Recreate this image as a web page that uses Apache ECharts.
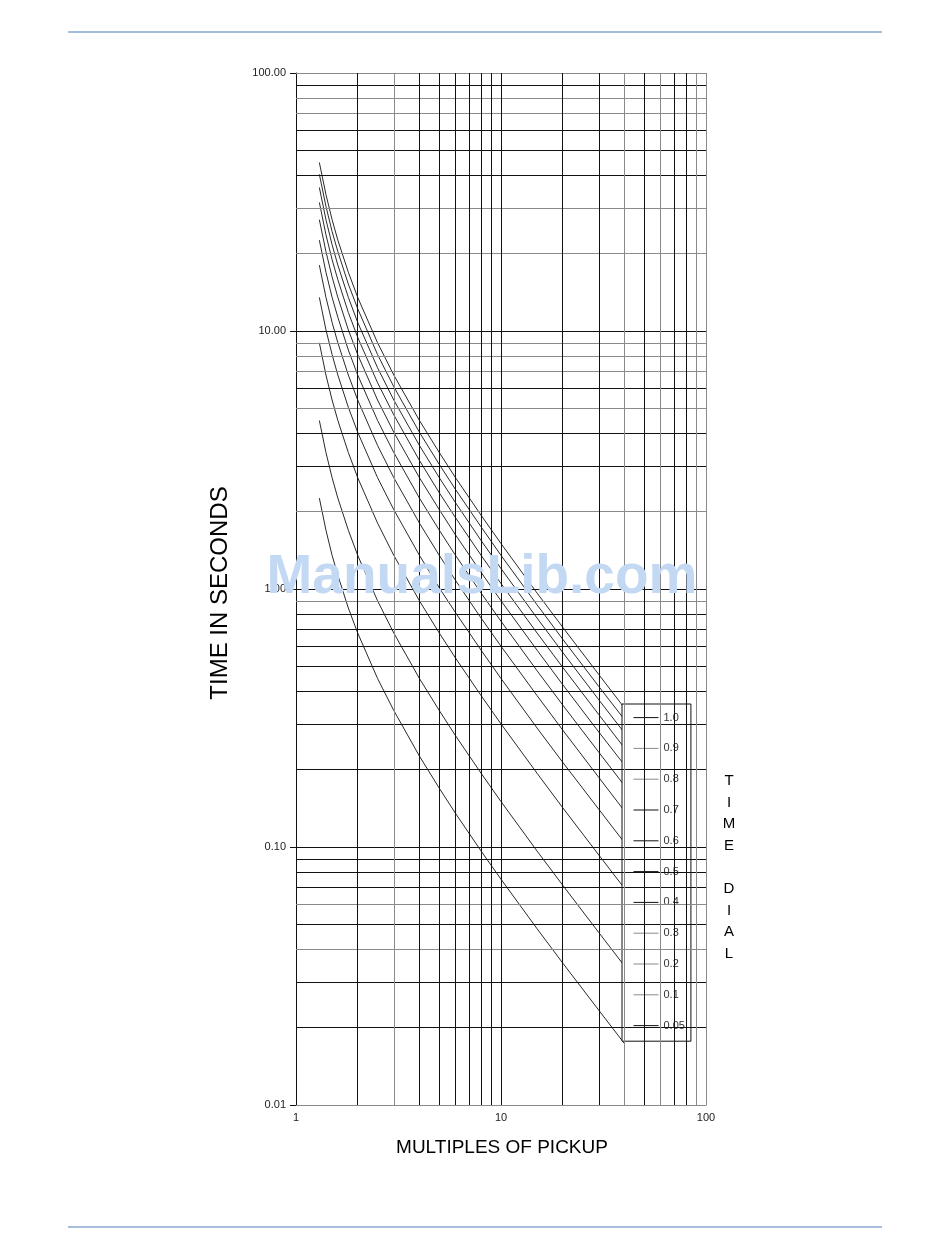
<!DOCTYPE html>
<html>
<head>
<meta charset="utf-8">
<script src="https://cdn.jsdelivr.net/npm/echarts@6/dist/echarts.min.js"></script>
<style>
html,body{margin:0;padding:0;background:#fff;}
#chart{width:950px;height:1260px;}
</style>
</head>
<body>
<div id="chart"></div>
<script>
// Multiples of pickup (x)
const multiples = [1.3, 1.4, 1.5, 1.6, 1.8, 2, 2.5, 3, 4, 5, 6, 8, 10, 15, 20, 30, 40];
// Time dial settings (legend)
const dials = ['1.0', '0.9', '0.8', '0.7', '0.6', '0.5', '0.4', '0.3', '0.2', '0.1', '0.05'];
// Operating time in seconds for each dial
const t10  = [45, 33.8, 27, 22.5, 16.9, 13.5, 9, 6.75, 4.5, 3.38, 2.7, 1.93, 1.5, 0.964, 0.711, 0.466, 0.346];
const t09  = [40.5, 30.4, 24.3, 20.3, 15.2, 12.2, 8.1, 6.08, 4.05, 3.04, 2.43, 1.74, 1.35, 0.868, 0.639, 0.419, 0.312];
const t08  = [36, 27, 21.6, 18, 13.5, 10.8, 7.2, 5.4, 3.6, 2.7, 2.16, 1.54, 1.2, 0.771, 0.568, 0.372, 0.277];
const t07  = [31.5, 23.6, 18.9, 15.8, 11.8, 9.45, 6.3, 4.73, 3.15, 2.36, 1.89, 1.35, 1.05, 0.675, 0.497, 0.326, 0.242];
const t06  = [27, 20.3, 16.2, 13.5, 10.1, 8.1, 5.4, 4.05, 2.7, 2.03, 1.62, 1.16, 0.9, 0.579, 0.426, 0.279, 0.208];
const t05  = [22.5, 16.9, 13.5, 11.3, 8.44, 6.75, 4.5, 3.38, 2.25, 1.69, 1.35, 0.964, 0.75, 0.482, 0.355, 0.233, 0.173];
const t04  = [18, 13.5, 10.8, 9, 6.75, 5.4, 3.6, 2.7, 1.8, 1.35, 1.08, 0.771, 0.6, 0.386, 0.284, 0.186, 0.138];
const t03  = [13.5, 10.1, 8.1, 6.75, 5.06, 4.05, 2.7, 2.03, 1.35, 1.01, 0.81, 0.579, 0.45, 0.289, 0.213, 0.14, 0.104];
const t02  = [9, 6.75, 5.4, 4.5, 3.38, 2.7, 1.8, 1.35, 0.9, 0.675, 0.54, 0.386, 0.3, 0.193, 0.142, 0.0931, 0.0692];
const t01  = [4.5, 3.38, 2.7, 2.25, 1.69, 1.35, 0.9, 0.675, 0.45, 0.338, 0.27, 0.193, 0.15, 0.0964, 0.0711, 0.0466, 0.0346];
const t005 = [2.25, 1.69, 1.35, 1.13, 0.844, 0.675, 0.45, 0.338, 0.225, 0.169, 0.135, 0.0964, 0.075, 0.0482, 0.0355, 0.0233, 0.0173];
const curves = [t10, t09, t08, t07, t06, t05, t04, t03, t02, t01, t005];

// Grid line values (log paper)
const yGridDark = [90, 60, 50, 40, 10, 6, 4, 3, 1, 0.8, 0.7, 0.6, 0.5, 0.4, 0.3, 0.2, 0.1, 0.09, 0.08, 0.07, 0.05, 0.03, 0.02];
const yGridGray = [100, 80, 70, 30, 20, 9, 8, 7, 5, 2, 0.9, 0.06, 0.04, 0.01];
const xGridDark = [2, 4, 5, 6, 7, 8, 9, 10, 20, 30, 50, 70, 80];
const xGridGray = [3, 40, 60, 90, 100];

const grayLegend = ['0.9', '0.8', '0.3', '0.2', '0.1'];
const FONT = '"Liberation Sans", Arial, sans-serif';

const chart = echarts.init(document.getElementById('chart'), null, {renderer: 'canvas'});

function mlData(vals, key, color) {
  return vals.map(v => ({[key]: v, lineStyle: {color: color, width: 1, type: 'solid'}}));
}

const series = [{
  name: '__grid',
  type: 'line',
  data: [[1, 0.01]],
  symbol: 'none',
  lineStyle: {opacity: 0},
  silent: true,
  z: 1,
  markLine: {
    silent: true,
    symbol: ['none', 'none'],
    label: {show: false},
    animation: false,
    data: [].concat(
      mlData(yGridDark, 'yAxis', '#111'),
      mlData(yGridGray, 'yAxis', '#8a8a8a'),
      mlData(xGridDark, 'xAxis', '#111'),
      mlData(xGridGray, 'xAxis', '#8a8a8a')
    )
  }
}];

dials.forEach((d, i) => {
  series.push({
    name: d,
    type: 'line',
    data: multiples.map((m, j) => [m, curves[i][j]]),
    symbol: 'none',
    showSymbol: false,
    smooth: false,
    z: 3,
    color: '#2a2a2a',
    lineStyle: {color: '#2a2a2a', width: 1}
  });
});

const option = {
  animation: false,
  backgroundColor: '#fff',
  textStyle: {fontFamily: FONT},
  grid: {left: 296, top: 73, width: 410, height: 1032, containLabel: false},
  xAxis: {
    type: 'log',
    logBase: 10,
    min: 1,
    max: 100,
    splitNumber: 2,
    axisLine: {show: true, lineStyle: {color: '#8a8a8a', width: 1}},
    axisTick: {show: false},
    splitLine: {show: false},
    axisLabel: {
      color: '#222',
      fontSize: 11,
      fontFamily: FONT,
      margin: 7,
      formatter: v => String(Number(v.toPrecision(3)))
    }
  },
  yAxis: {
    type: 'log',
    logBase: 10,
    min: 0.01,
    max: 100,
    axisLine: {show: true, lineStyle: {color: '#111', width: 1}},
    axisTick: {show: true, length: 6, lineStyle: {color: '#111'}},
    splitLine: {show: false},
    axisLabel: {
      color: '#222',
      fontSize: 11,
      fontFamily: FONT,
      margin: 10,
      formatter: v => Number(v).toFixed(2)
    }
  },
  legend: {
    orient: 'vertical',
    left: 622,
    top: 704,
    padding: [8, 6, 10, 11],
    itemWidth: 25,
    itemHeight: 14,
    itemGap: 19.6,
    backgroundColor: '#fff',
    borderColor: '#111',
    borderWidth: 1,
    borderRadius: 0,
    textStyle: {color: '#333', fontSize: 11, fontFamily: FONT},
    data: dials.map(d => ({
      name: d,
      itemStyle: {opacity: 0},
      lineStyle: {color: grayLegend.includes(d) ? '#8a8a8a' : '#111', width: 1}
    }))
  },
  series: series,
  graphic: [
    {type: 'line', shape: {x1: 68, y1: 32, x2: 882, y2: 32}, style: {stroke: '#a7bddc', lineWidth: 2}, silent: true},
    {type: 'line', shape: {x1: 68, y1: 1227, x2: 882, y2: 1227}, style: {stroke: '#a7bddc', lineWidth: 2}, silent: true},
    {
      type: 'text', x: 220, y: 593, rotation: Math.PI / 2,
      style: {text: 'TIME IN SECONDS', font: '24px ' + FONT, fill: '#000', textAlign: 'center', textVerticalAlign: 'middle'}
    },
    {
      type: 'text', x: 502, y: 1148,
      style: {text: 'MULTIPLES OF PICKUP', font: '19px ' + FONT, fill: '#000', textAlign: 'center', textVerticalAlign: 'middle'}
    },
    {
      type: 'text', x: 729, y: 770,
      style: {text: 'T\nI\nM\nE\n\nD\nI\nA\nL', font: '15px ' + FONT, lineHeight: 21.6, fill: '#000', textAlign: 'center', textVerticalAlign: 'top'}
    },
    {
      type: 'text', x: 482, y: 578, z: 100,
      style: {text: 'ManualsLib.com', font: 'bold 55px ' + FONT, fill: '#c3d9f3', textAlign: 'center', textVerticalAlign: 'middle'}
    }
  ]
};

chart.setOption(option);
</script>
</body>
</html>
